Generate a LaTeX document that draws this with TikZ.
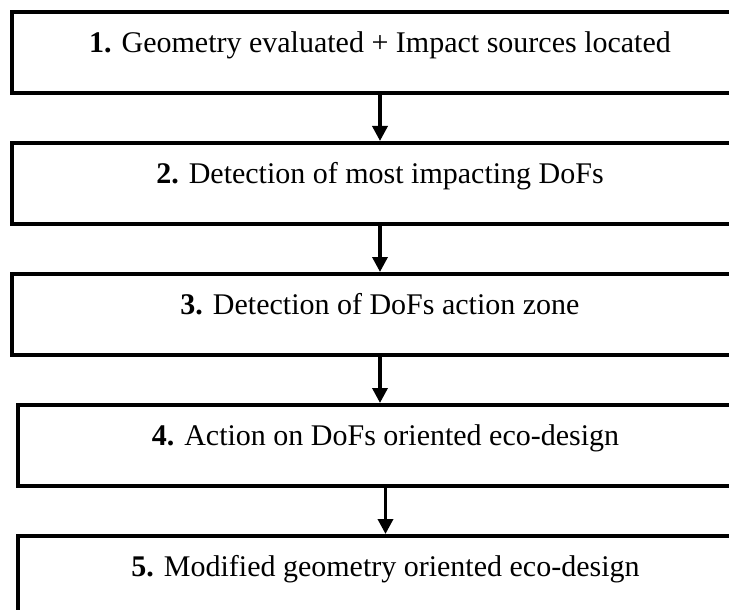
\documentclass[tikz,border=0pt]{standalone}
\usepackage{fontspec}
\setmainfont{Liberation Serif}
\usetikzlibrary{arrows.meta,positioning}

\begin{document}
\begin{tikzpicture}[x=1pt, y=1pt, node distance=46pt,
    stage/.style={draw, rectangle, line width=4pt, minimum width=736pt,
                  minimum height=81pt, inner sep=0pt, text height=14pt,
                  text depth=14pt, font=\fontsize{30}{36}\selectfont},
    >={Triangle[length=15pt,width=15pt]}]
          \useasboundingbox (0,0) rectangle (729,-610);
          \clip (0,0) rectangle (729,-610);
          \node[stage, anchor=north west] (1) at (10,-10) {\textbf{1.} Geometry evaluated + Impact sources located};
          \node[stage] (2) [below=of 1]              {\textbf{2.} Detection of most impacting DoFs};
          \node[stage] (3) [below=of 2]              {\textbf{3.} Detection of DoFs action zone};
          \node[stage] (4) [below=of 3, xshift=5.5pt] {\textbf{4.} Action on DoFs oriented eco-design};
          \node[stage] (5) [below=of 4]              {\textbf{5.} Modified geometry oriented eco-design};

          \path[->, line width=3.5pt]
                    (1) edge (2)
                    (2) edge (3)
                    (3) edge (3 |- 4.north)
                    (4) edge (5)
            ;
\end{tikzpicture}
\end{document}
